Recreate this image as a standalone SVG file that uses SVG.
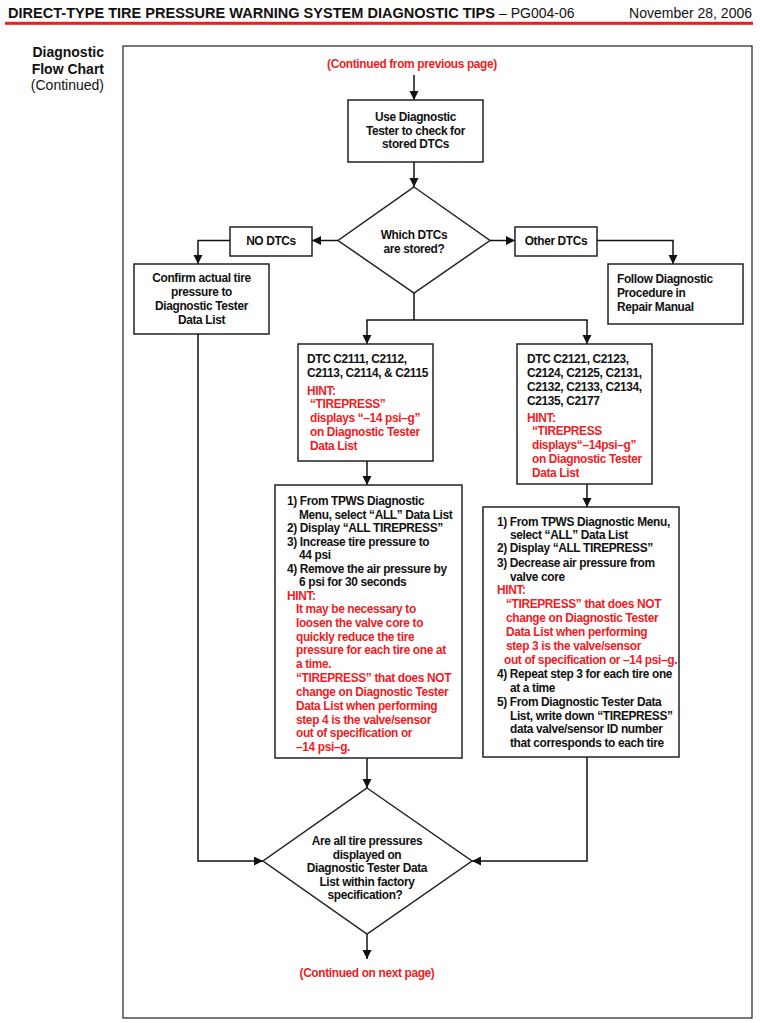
<svg xmlns="http://www.w3.org/2000/svg" width="760" height="1023" viewBox="0 0 760 1023">
<style>
.t{font-family:"Liberation Sans",Arial,sans-serif;font-weight:bold;font-size:11.9px;letter-spacing:-0.35px;fill:#111}
.r{fill:#ee1c24}
.c{text-anchor:middle}
.box{fill:#fff;stroke:#222;stroke-width:1.5}
.ln{fill:none;stroke:#111;stroke-width:1.5}
.hd{font-family:"Liberation Sans",Arial,sans-serif;font-size:14px;fill:#111}
</style>
<defs>
<marker id="ah" markerUnits="userSpaceOnUse" markerWidth="10" markerHeight="10" refX="9" refY="4.5" orient="auto">
<path d="M0,0 L9,4.5 L0,9 z" fill="#111"/>
</marker>
</defs>
<rect width="760" height="1023" fill="#fff"/>
<g id="header">
<text class="hd" x="8" y="18" font-weight="bold" font-size="14.5" textLength="487" lengthAdjust="spacingAndGlyphs">DIRECT-TYPE TIRE PRESSURE WARNING SYSTEM DIAGNOSTIC TIPS</text>
<text class="hd" x="499" y="18">– PG004-06</text>
<text class="hd" x="752" y="18" text-anchor="end">November 28, 2006</text>
<rect x="5" y="21.8" width="748" height="3" fill="#ee1c24"/>
</g>
<g id="side-label">
<text class="hd" x="104" y="57" text-anchor="end" font-weight="bold">Diagnostic</text>
<text class="hd" x="104" y="73.5" text-anchor="end" font-weight="bold">Flow Chart</text>
<text class="hd" x="104" y="90" text-anchor="end">(Continued)</text>
</g>
<rect id="frame" x="123" y="46" width="629" height="972" fill="none" stroke="#333" stroke-width="1.3"/>
<g id="connectors">
<line class="ln" x1="414" y1="75" x2="414" y2="100" marker-end="url(#ah)"/>
<line class="ln" x1="414" y1="162" x2="414" y2="187" marker-end="url(#ah)"/>
<line class="ln" x1="338" y1="240.5" x2="312" y2="240.5" marker-end="url(#ah)"/>
<polyline class="ln" points="230,240.5 198,240.5 198,264" marker-end="url(#ah)"/>
<line class="ln" x1="490" y1="240.5" x2="515" y2="240.5" marker-end="url(#ah)"/>
<polyline class="ln" points="597,240.5 673,240.5 673,264" marker-end="url(#ah)"/>
<line class="ln" x1="414" y1="293" x2="414" y2="320"/>
<line class="ln" x1="366.3" y1="320" x2="587.7" y2="320"/>
<line class="ln" x1="367" y1="320" x2="367" y2="344" marker-end="url(#ah)"/>
<line class="ln" x1="587" y1="320" x2="587" y2="344" marker-end="url(#ah)"/>
<line class="ln" x1="367" y1="461" x2="367" y2="485" marker-end="url(#ah)"/>
<line class="ln" x1="587" y1="484" x2="587" y2="507" marker-end="url(#ah)"/>
<polyline class="ln" points="198,334 198,861 263,861" marker-end="url(#ah)"/>
<line class="ln" x1="367" y1="758" x2="367" y2="788" marker-end="url(#ah)"/>
<polyline class="ln" points="587,757 587,861 472,861" marker-end="url(#ah)"/>
<line class="ln" x1="367" y1="934" x2="367" y2="959" marker-end="url(#ah)"/>
</g>
<g id="cont-top">
<text class="t r c" x="412" y="67.5">(Continued from previous page)</text>
</g>
<g id="use-tester">
<rect class="box" x="348" y="100" width="135" height="62"/>
<text class="t c" x="415.5" y="121">Use Diagnostic</text>
<text class="t c" x="415.5" y="134.5">Tester to check for</text>
<text class="t c" x="415.5" y="148">stored DTCs</text>
</g>
<g id="which-dtcs">
<polygon class="box" points="414,187 490,240.5 414,293 338,240.5"/>
<text class="t c" x="414" y="239">Which DTCs</text>
<text class="t c" x="414" y="253">are stored?</text>
</g>
<g id="no-dtcs">
<rect class="box" x="230" y="227" width="82" height="29"/>
<text class="t c" x="271" y="245">NO DTCs</text>
</g>
<g id="other-dtcs">
<rect class="box" x="515" y="227" width="82" height="29"/>
<text class="t c" x="556" y="245">Other DTCs</text>
</g>
<g id="confirm">
<rect class="box" x="134" y="264" width="135" height="70"/>
<text class="t c" x="201.5" y="282">Confirm actual tire</text>
<text class="t c" x="201.5" y="296">pressure to</text>
<text class="t c" x="201.5" y="310">Diagnostic Tester</text>
<text class="t c" x="201.5" y="324">Data List</text>
</g>
<g id="follow">
<rect class="box" x="608" y="264" width="135" height="60"/>
<text class="t" x="617" y="283">Follow Diagnostic</text>
<text class="t" x="617" y="297">Procedure in</text>
<text class="t" x="617" y="311">Repair Manual</text>
</g>
<g id="dtc-left">
<rect class="box" x="298" y="344" width="135" height="117"/>
<text class="t" x="307" y="363">DTC C2111, C2112,</text>
<text class="t" x="307" y="377">C2113, C2114, &amp; C2115</text>
<text class="t r" x="307" y="395">HINT:</text>
<text class="t r" x="310" y="408">“TIREPRESS”</text>
<text class="t r" x="310" y="422">displays “–14 psi–g”</text>
<text class="t r" x="310" y="436">on Diagnostic Tester</text>
<text class="t r" x="310" y="450">Data List</text>
</g>
<g id="dtc-right">
<rect class="box" x="517" y="344" width="135" height="140"/>
<text class="t" x="527" y="363">DTC C2121, C2123,</text>
<text class="t" x="527" y="377">C2124, C2125, C2131,</text>
<text class="t" x="527" y="391">C2132, C2133, C2134,</text>
<text class="t" x="527" y="405">C2135, C2177</text>
<text class="t r" x="527" y="422">HINT:</text>
<text class="t r" x="532" y="435">“TIREPRESS</text>
<text class="t r" x="532" y="449">displays“–14psi–g”</text>
<text class="t r" x="532" y="463">on Diagnostic Tester</text>
<text class="t r" x="532" y="477">Data List</text>
</g>
<g id="steps-left">
<rect class="box" x="275" y="485" width="187" height="273"/>
<text class="t" x="287" y="505">1) From TPWS Diagnostic</text>
<text class="t" x="299" y="518.5">Menu, select “ALL” Data List</text>
<text class="t" x="287" y="532">2) Display “ALL TIREPRESS”</text>
<text class="t" x="287" y="545.5">3) Increase tire pressure to</text>
<text class="t" x="299" y="559">44 psi</text>
<text class="t" x="287" y="572.5">4) Remove the air pressure by</text>
<text class="t" x="299" y="586">6 psi for 30 seconds</text>
<text class="t r" x="287" y="599.5">HINT:</text>
<text class="t r" x="296" y="613">It may be necessary to</text>
<text class="t r" x="296" y="627">loosen the valve core to</text>
<text class="t r" x="296" y="640.5">quickly reduce the tire</text>
<text class="t r" x="296" y="654">pressure for each tire one at</text>
<text class="t r" x="296" y="667.5">a time.</text>
<text class="t r" x="296" y="682">“TIREPRESS” that does NOT</text>
<text class="t r" x="296" y="696">change on Diagnostic Tester</text>
<text class="t r" x="296" y="710">Data List when performing</text>
<text class="t r" x="296" y="723.5">step 4 is the valve/sensor</text>
<text class="t r" x="296" y="737">out of specification or</text>
<text class="t r" x="296" y="751">–14 psi–g.</text>
</g>
<g id="steps-right">
<rect class="box" x="483" y="507" width="196" height="250"/>
<text class="t" x="497" y="526">1) From TPWS Diagnostic Menu,</text>
<text class="t" x="510" y="538.5">select “ALL” Data List</text>
<text class="t" x="497" y="552">2) Display “ALL TIREPRESS”</text>
<text class="t" x="497" y="567">3) Decrease air pressure from</text>
<text class="t" x="510" y="581">valve core</text>
<text class="t r" x="497" y="594">HINT:</text>
<text class="t r" x="506" y="608">“TIREPRESS” that does NOT</text>
<text class="t r" x="506" y="621.5">change on Diagnostic Tester</text>
<text class="t r" x="506" y="636">Data List when performing</text>
<text class="t r" x="506" y="650">step 3 is the  valve/sensor</text>
<text class="t r" x="504" y="663.5">out of specification or –14 psi–g.</text>
<text class="t" x="497" y="678">4) Repeat step 3 for each tire one</text>
<text class="t" x="510" y="691.5">at a time</text>
<text class="t" x="497" y="706">5) From Diagnostic Tester Data</text>
<text class="t" x="510" y="719.5">List, write down “TIREPRESS”</text>
<text class="t" x="510" y="733">data valve/sensor ID number</text>
<text class="t" x="510" y="746.5">that corresponds to each tire</text>
</g>
<g id="spec-check">
<polygon class="box" points="367,788 472,861 367,934 263,861"/>
<text class="t c" x="367" y="845">Are all tire pressures</text>
<text class="t c" x="367" y="858.5">displayed on</text>
<text class="t c" x="367" y="872">Diagnostic Tester Data</text>
<text class="t c" x="367" y="885.5">List within factory</text>
<text class="t c" x="365" y="899">specification?</text>
</g>
<g id="cont-bottom">
<text class="t r c" x="367" y="977">(Continued on next page)</text>
</g>
</svg>
